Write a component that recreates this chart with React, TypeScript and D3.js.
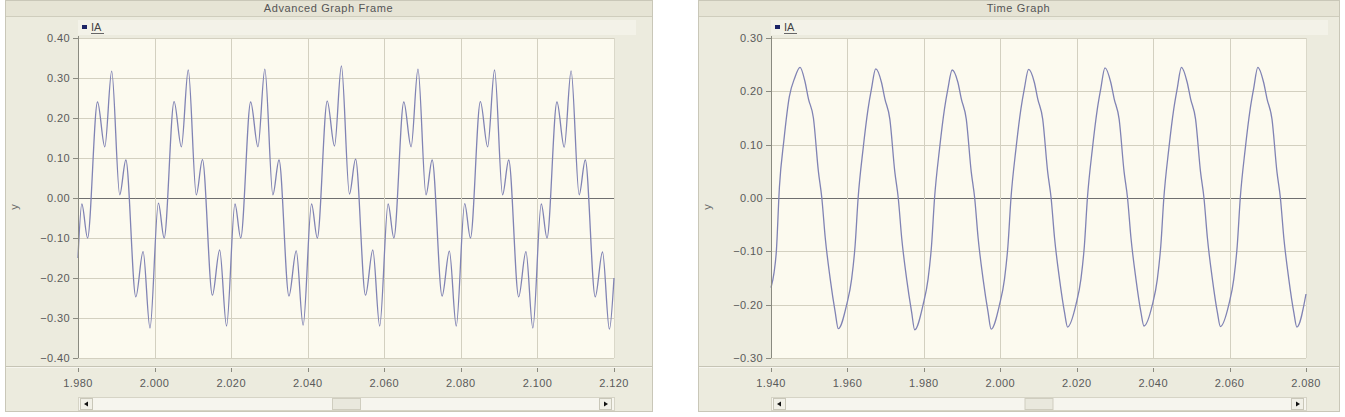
import React from "react";
import * as d3 from "d3";

// ---------- Left chart: "Advanced Graph Frame" (IA, distorted waveform) ----------
const leftTitle = "Advanced Graph Frame";
const leftXTicks = [1.98, 2.0, 2.02, 2.04, 2.06, 2.08, 2.1, 2.12];
const leftYTicks = [-0.4, -0.3, -0.2, -0.1, 0.0, 0.1, 0.2, 0.3, 0.4];
const leftTime = [
  1.98,
  1.981, 1.9825, 1.9851, 1.987, 1.9888, 1.9909, 1.9925, 1.9951, 1.997, 1.9988,
  2.001, 2.0025, 2.0051, 2.007, 2.0088, 2.0109, 2.0125, 2.0151, 2.017, 2.0188,
  2.021, 2.0225, 2.0251, 2.027, 2.0288, 2.0309, 2.0325, 2.0351, 2.037, 2.0388,
  2.041, 2.0425, 2.0451, 2.047, 2.0488, 2.0509, 2.0525, 2.0551, 2.057, 2.0588,
  2.061, 2.0625, 2.0651, 2.067, 2.0688, 2.0709, 2.0725, 2.0751, 2.077, 2.0788,
  2.081, 2.0825, 2.0851, 2.087, 2.0888, 2.0909, 2.0925, 2.0951, 2.097, 2.0988,
  2.101, 2.1025, 2.1051, 2.107, 2.1088, 2.1109, 2.1125, 2.1151, 2.117, 2.1188,
  2.12,
];
const leftIA = [
  -0.15,
  -0.015, -0.1, 0.24, 0.128, 0.317, 0.008, 0.095, -0.247, -0.134, -0.325,
  -0.013, -0.1, 0.241, 0.128, 0.32, 0.008, 0.096, -0.243, -0.13, -0.32,
  -0.015, -0.1, 0.24, 0.128, 0.322, 0.008, 0.095, -0.245, -0.132, -0.318,
  -0.015, -0.1, 0.242, 0.13, 0.33, 0.01, 0.097, -0.243, -0.13, -0.32,
  -0.015, -0.1, 0.24, 0.128, 0.322, 0.008, 0.095, -0.245, -0.133, -0.32,
  -0.014, -0.1, 0.241, 0.128, 0.32, 0.008, 0.095, -0.247, -0.134, -0.325,
  -0.015, -0.1, 0.24, 0.127, 0.318, 0.008, 0.095, -0.247, -0.135, -0.328,
  -0.2,
];

// ---------- Right chart: "Time Graph" (IA, near-sinusoidal) ----------
const rightTitle = "Time Graph";
const rightXTicks = [1.94, 1.96, 1.98, 2.0, 2.02, 2.04, 2.06, 2.08];
const rightYTicks = [-0.3, -0.2, -0.1, 0.0, 0.1, 0.2, 0.3];
const rightTime = [
  1.94, 1.9408, 1.9414, 1.9422, 1.9434, 1.9448, 1.9462, 1.9476, 1.9489, 1.9498, 1.9511, 1.9524, 1.9533, 1.9542, 1.9555, 1.9568, 1.9576,
  1.9598, 1.9611, 1.962, 1.9628, 1.9641, 1.9654, 1.9663, 1.9674, 1.9689, 1.9698, 1.9711, 1.9724, 1.9733, 1.9742, 1.9755, 1.9768, 1.9776,
  1.9798, 1.9811, 1.982, 1.9828, 1.9841, 1.9854, 1.9863, 1.9874, 1.9889, 1.9898, 1.9911, 1.9924, 1.9933, 1.9942, 1.9955, 1.9968, 1.9976,
  1.9998, 2.0011, 2.002, 2.0028, 2.0041, 2.0054, 2.0063, 2.0074, 2.0089, 2.0098, 2.0111, 2.0124, 2.0133, 2.0142, 2.0155, 2.0168, 2.0176,
  2.0198, 2.0211, 2.022, 2.0228, 2.0241, 2.0254, 2.0263, 2.0274, 2.0289, 2.0298, 2.0311, 2.0324, 2.0333, 2.0342, 2.0355, 2.0368, 2.0376,
  2.0398, 2.0411, 2.042, 2.0428, 2.0441, 2.0454, 2.0463, 2.0474, 2.0489, 2.0498, 2.0511, 2.0524, 2.0533, 2.0542, 2.0555, 2.0568, 2.0576,
  2.0598, 2.0611, 2.062, 2.0628, 2.0641, 2.0654, 2.0663, 2.0674, 2.0689, 2.0698, 2.0711, 2.0724, 2.0733, 2.0742, 2.0755, 2.0768, 2.0776,
  2.08,
];
const rightIA = [
  -0.168, -0.14, -0.1, 0.02, 0.11, 0.19, 0.225, 0.245, 0.218, 0.186, 0.15, 0.05, 0.0, -0.075, -0.152, -0.214, -0.245,
  -0.2, -0.152, -0.09, 0.0, 0.092, 0.167, 0.205, 0.242, 0.217, 0.186, 0.148, 0.049, 0.0, -0.075, -0.152, -0.214, -0.247,
  -0.2, -0.152, -0.09, 0.0, 0.092, 0.167, 0.205, 0.24, 0.217, 0.186, 0.148, 0.049, 0.0, -0.075, -0.152, -0.214, -0.246,
  -0.2, -0.152, -0.09, 0.0, 0.092, 0.167, 0.205, 0.241, 0.217, 0.186, 0.148, 0.049, 0.0, -0.075, -0.152, -0.214, -0.242,
  -0.2, -0.152, -0.09, 0.0, 0.092, 0.167, 0.205, 0.244, 0.217, 0.186, 0.148, 0.049, 0.0, -0.075, -0.152, -0.214, -0.24,
  -0.2, -0.152, -0.09, 0.0, 0.092, 0.167, 0.205, 0.245, 0.217, 0.186, 0.148, 0.049, 0.0, -0.075, -0.152, -0.214, -0.241,
  -0.2, -0.152, -0.09, 0.0, 0.092, 0.167, 0.205, 0.245, 0.217, 0.186, 0.148, 0.049, 0.0, -0.075, -0.152, -0.214, -0.242,
  -0.18,
];

const seriesName = "IA";
const yAxisTitle = "y";

const FONT = "Tahoma, 'DejaVu Sans', 'Liberation Sans', Arial, sans-serif";
const FONT2 = "'Liberation Sans', Arial, sans-serif";

type PanelProps = {
  title: string;
  frameX0: number;
  frameX1: number;
  plotX0: number;
  plotX1: number;
  xTicks: number[];
  yTicks: number[];
  time: number[];
  values: number[];
};

function Panel(p: PanelProps) {
  const top = 38;
  const bottom = 358;
  const x = d3
    .scaleLinear()
    .domain([p.xTicks[0], p.xTicks[p.xTicks.length - 1]])
    .range([p.plotX0, p.plotX1]);
  const y = d3
    .scaleLinear()
    .domain([p.yTicks[0], p.yTicks[p.yTicks.length - 1]])
    .range([bottom, top]);
  const pts = p.time.map((t, i) => [t, p.values[i]] as [number, number]);
  const line = d3
    .line<[number, number]>()
    .x((d) => x(d[0]))
    .y((d) => y(d[1]))
    .curve(d3.curveMonotoneX);
  const fy = d3.format(".2f");
  const fx = d3.format(".3f");
  const frameW = p.frameX1 - p.frameX0;
  const mid = (p.plotX0 + p.plotX1) / 2;
  return (
    <g>
      <rect x={p.frameX0 + 0.5} y={0.5} width={frameW} height={411} fill="#ECEBDE" stroke="#C9C7B8" />
      <rect x={p.frameX0 + 1} y={1} width={frameW - 1} height={15} fill="#E6E4D5" />
      <line x1={p.frameX0 + 1} x2={p.frameX1} y1={16.5} y2={16.5} stroke="#CFCDBD" />
      <text
        x={p.frameX0 + frameW / 2}
        y={12}
        textAnchor="middle"
        fontFamily={FONT2}
        fontSize={11}
        letterSpacing={0.6}
        fill="#555"
      >
        {p.title}
      </text>
      {/* legend band */}
      <rect x={p.plotX0} y={20} width={p.plotX1 - p.plotX0 + 22} height={15} fill="#F3F2E8" />
      <rect x={p.plotX0 + 4} y={25} width={5} height={4} fill="#1C2466" />
      <text x={p.plotX0 + 13} y={31} fontFamily={FONT2} fontSize={11} fill="#444">
        {seriesName}
      </text>
      <line x1={p.plotX0 + 13} x2={p.plotX0 + 26} y1={33.5} y2={33.5} stroke="#666" />
      {/* plot area */}
      <rect x={p.plotX0} y={top} width={p.plotX1 - p.plotX0} height={bottom - top} fill="#FCFAEF" />
      {p.yTicks.map((v) => (
        <line
          key={"gy" + v}
          x1={p.plotX0}
          x2={p.plotX1}
          y1={Math.round(y(v)) + 0.5}
          y2={Math.round(y(v)) + 0.5}
          stroke={v === 0 ? "#6F6F6F" : "#D3D0C0"}
          strokeWidth={1}
        />
      ))}
      {p.xTicks.slice(1, -1).map((v) => (
        <line
          key={"gx" + v}
          x1={Math.round(x(v)) + 0.5}
          x2={Math.round(x(v)) + 0.5}
          y1={top}
          y2={bottom}
          stroke="#D3D0C0"
        />
      ))}
      <line x1={p.plotX1 + 0.5} x2={p.plotX1 + 0.5} y1={top} y2={bottom} stroke="#DAD8C9" />
      <path d={line(pts) || ""} fill="none" stroke="#8083B4" strokeWidth={1.3} strokeLinejoin="round" />
      {/* y axis */}
      <line x1={p.plotX0 + 0.5} x2={p.plotX0 + 0.5} y1={top - 2} y2={bottom} stroke="#8A8A80" />
      {p.yTicks.map((v) => (
        <g key={"ty" + v}>
          <line
            x1={p.plotX0 - 5}
            x2={p.plotX0}
            y1={Math.round(y(v)) + 0.5}
            y2={Math.round(y(v)) + 0.5}
            stroke="#8A8A80"
          />
          <text
            x={p.plotX0 - 8}
            y={y(v) + 4}
            textAnchor="end"
            fontFamily={FONT2}
            fontSize={11}
            letterSpacing={0.4}
            fill="#5A5A5A"
          >
            {fy(v)}
          </text>
        </g>
      ))}
      <text
        transform={`translate(${p.frameX0 + 13},${y(0) + 9}) rotate(-90)`}
        textAnchor="middle"
        fontFamily={FONT2}
        fontSize={11}
        fill="#666"
      >
        {yAxisTitle}
      </text>
      {/* lower band */}
      <line x1={p.frameX0 + 1} x2={p.frameX1} y1={366.5} y2={366.5} stroke="#C6C4B5" />
      <line x1={p.frameX0 + 1} x2={p.frameX1} y1={367.5} y2={367.5} stroke="#F6F5EE" />
      {p.xTicks.map((v) => (
        <g key={"tx" + v}>
          <line x1={Math.round(x(v)) + 0.5} x2={Math.round(x(v)) + 0.5} y1={368} y2={372} stroke="#8A8A80" />
          <text
            x={x(v)}
            y={387}
            textAnchor="middle"
            fontFamily={FONT2}
            fontSize={11}
            letterSpacing={0.4}
            fill="#5A5A5A"
          >
            {fx(v)}
          </text>
        </g>
      ))}
      {/* scrollbar */}
      <rect x={p.plotX0 + 0.5} y={397.5} width={p.plotX1 - p.plotX0} height={13} fill="#F6F5EE" stroke="#D6D4C6" />
      <rect x={p.plotX0 + 2.5} y={398.5} width={12} height={11} fill="#F1F0E7" stroke="#C9C7B9" />
      <path d={`M${p.plotX0 + 6},404 L${p.plotX0 + 10},401.5 L${p.plotX0 + 10},406.5 Z`} fill="#111" />
      <rect x={p.plotX1 - 14.5} y={398.5} width={12} height={11} fill="#F1F0E7" stroke="#C9C7B9" />
      <path d={`M${p.plotX1 - 6},404 L${p.plotX1 - 10},401.5 L${p.plotX1 - 10},406.5 Z`} fill="#111" />
      <rect x={mid - 14 + 0.5} y={398.5} width={28} height={11} fill="#E9E8DD" stroke="#CFCDBF" />
    </g>
  );
}

export default function App() {
  return (
    <div style={{ position: "absolute", left: 0, top: 0, background: "#fff" }}>
      <svg width={1345} height={417} style={{ display: "block" }}>
        <rect width={1345} height={417} fill="#FFFFFF" />
        <Panel
          title={leftTitle}
          frameX0={5}
          frameX1={652}
          plotX0={78}
          plotX1={614}
          xTicks={leftXTicks}
          yTicks={leftYTicks}
          time={leftTime}
          values={leftIA}
        />
        <Panel
          title={rightTitle}
          frameX0={698}
          frameX1={1339}
          plotX0={771}
          plotX1={1306}
          xTicks={rightXTicks}
          yTicks={rightYTicks}
          time={rightTime}
          values={rightIA}
        />
      </svg>
    </div>
  );
}
